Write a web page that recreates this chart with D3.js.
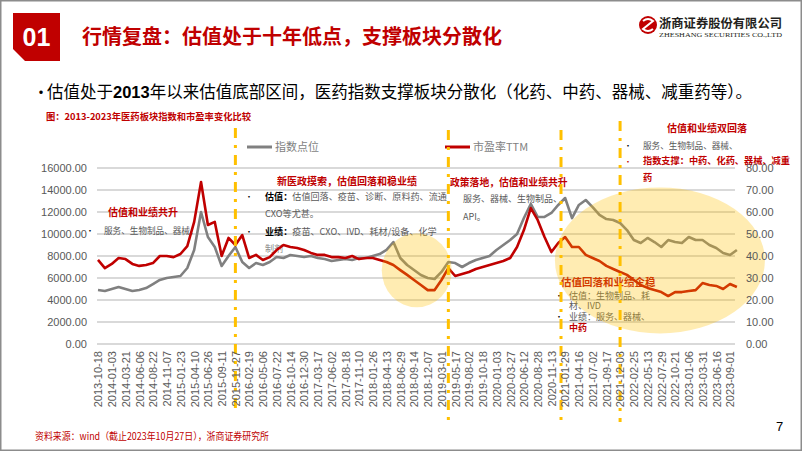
<!DOCTYPE html>
<html>
<head>
<meta charset="utf-8">
<script src="https://cdn.jsdelivr.net/npm/d3@7"></script>
<style>
body { margin: 0; background: #fff; }
svg { display: block; }
text { font-family: "Noto Sans CJK SC", "Liberation Sans", sans-serif; }
</style>
</head>
<body>
<svg width="802" height="451"></svg>
<script>
// x axis categories (every 55 trading days)
const dateLabels = ["2013-10-18","2014-01-03","2014-03-21","2014-06-06","2014-08-22","2014-11-07",
  "2015-01-23","2015-04-10","2015-06-26","2015-09-11","2015-11-27","2016-02-19","2016-05-06",
  "2016-07-22","2016-10-14","2016-12-30","2017-03-17","2017-06-02","2017-08-18","2017-11-10",
  "2018-01-26","2018-04-13","2018-06-29","2018-09-14","2018-12-07","2019-03-01","2019-05-17",
  "2019-08-02","2019-10-18","2020-01-03","2020-03-27","2020-06-12","2020-08-28","2020-11-13",
  "2021-01-29","2021-04-16","2021-07-02","2021-09-17","2021-12-03","2022-02-25","2022-05-13",
  "2022-07-29","2022-10-21","2023-01-06","2023-03-31","2023-06-16","2023-09-01"];

// one reading every half label step
const sampleStep = 0.5;

// 指数点位
const indexPts = [4910,4820,5000,5180,5000,4820,4910,5090,5450,5820,
  6000,6090,6180,6910,8550,12000,9730,8820,7090,8000,
  8820,7450,6910,7360,7180,7450,7910,7820,8090,8000,
  7910,8000,7820,7730,7550,7640,7730,7640,7820,7820,
  8000,8180,8550,9270,7820,7180,6730,6270,6000,5910,
  6550,7450,7360,7000,7360,7640,7820,8000,8550,9000,
  9450,10000,11450,12730,11550,11550,11910,12640,13270,11450,
  12640,13090,12450,11730,11360,11270,11000,10360,9450,9180,
  9640,9270,8820,9450,9270,9180,9730,9450,9450,9000,
  8730,8270,8090,8550];

// 市盈率TTM
const pePts = [38.2,34.5,36.4,39.1,38.6,36.4,35.5,35.9,36.8,40.0,
  40.0,39.5,40.9,44.5,55.5,73.6,54.1,55.5,40.0,48.2,
  45.0,49.5,39.1,40.5,38.2,39.5,42.7,45.0,44.1,43.6,
  42.7,41.4,40.5,40.5,39.5,39.5,39.1,40.0,38.6,39.1,
  39.1,38.2,37.3,35.9,33.6,31.4,29.1,26.8,24.5,24.5,
  29.1,34.5,30.9,31.8,32.7,34.1,35.0,35.9,36.8,37.7,
  39.1,44.1,51.8,61.8,56.4,48.6,41.8,45.9,48.6,44.1,
  44.1,40.5,39.1,37.7,35.5,34.1,32.7,31.4,29.1,26.8,
  25.5,24.5,23.6,21.8,23.6,23.6,24.1,24.5,27.7,26.8,
  26.4,25.0,27.3,25.9];

const leftTicks = d3.range(0, 16001, 2000);
const rightTicks = d3.range(0, 81, 10);

// phase boundaries, in label units
const phaseLines = [10, 25.5, 33.7, 38];

const red = "#C00000", gray = "#808080", txtGray = "#595959", gold = "#FFC000";

const svg = d3.select("svg");

// slide frame
svg.append("rect").attr("x", 0.75).attr("y", 0.75).attr("width", 800.5).attr("height", 449.5)
  .attr("fill", "none").attr("stroke", "#8c8c8c").attr("stroke-width", 1.5);

// header
svg.append("path").attr("d", "M13,13H60V61H25L13,49Z").attr("fill", red);
svg.append("text").attr("x", 36.5).attr("y", 46).attr("text-anchor", "middle")
  .attr("fill", "#fff").attr("font-size", 25).attr("font-weight", 700)
  .style("font-family", "Liberation Sans, Arial, sans-serif").text("01");
svg.append("text").attr("x", 82).attr("y", 44).attr("fill", red)
  .attr("font-size", 20).attr("font-weight", 700)
  .text("行情复盘：估值处于十年低点，支撑板块分散化");

// logo
svg.append("circle").attr("cx", 648).attr("cy", 25).attr("r", 9).attr("fill", red);
svg.append("path").attr("d", "M643,21 Q648,17 653,21 Q648,25 643,29 Q648,33 653,29")
  .attr("fill", "none").attr("stroke", "#fff").attr("stroke-width", 2);
svg.append("text").attr("x", 659).attr("y", 28).attr("font-size", 12.5).attr("font-weight", 700)
  .attr("fill", "#231f20").attr("textLength", 123).attr("lengthAdjust", "spacingAndGlyphs")
  .text("浙商证券股份有限公司");
svg.append("text").attr("x", 659).attr("y", 37).attr("font-size", 6.5)
  .style("font-family", "Liberation Serif, serif").attr("fill", "#231f20")
  .attr("textLength", 123).attr("lengthAdjust", "spacingAndGlyphs")
  .text("ZHESHANG SECURITIES CO.,LTD");

// bullet line
svg.append("text").attr("x", 33).attr("y", 98).attr("font-size", 16).attr("fill", "#000").text("•");
const sub = svg.append("text").attr("x", 47).attr("y", 98).attr("font-size", 16.5).attr("fill", "#000");
sub.append("tspan").text("估值处于");
sub.append("tspan").attr("font-weight", 700).style("font-family", "Liberation Sans, Arial, sans-serif").text("2013");
sub.append("tspan").text("年以来估值底部区间，医药指数支撑板块分散化（化药、中药、器械、减重药等）。");

// caption + source + page
svg.append("text").attr("x", 46).attr("y", 120).attr("font-size", 9.5).attr("font-weight", 700)
  .attr("fill", red).attr("textLength", 205).attr("lengthAdjust", "spacingAndGlyphs")
  .text("图：2013-2023年医药板块指数和市盈率变化比较");
svg.append("text").attr("x", 35).attr("y", 440).attr("font-size", 10).attr("fill", red)
  .attr("textLength", 234).attr("lengthAdjust", "spacingAndGlyphs")
  .text("资料来源：wind（截止2023年10月27日），浙商证券研究所");
svg.append("text").attr("x", 776).attr("y", 431).attr("font-size", 13).attr("fill", "#000")
  .style("font-family", "Liberation Sans, Arial, sans-serif").text("7");

// scales
const x0 = 98, x1 = 730, yTop = 168, yBot = 344;
const xPoint = d3.scalePoint().domain(dateLabels).range([x0, x1]);
const xLin = d3.scaleLinear().domain([0, dateLabels.length - 1]).range([x0, x1]);
const yL = d3.scaleLinear().domain([0, 16000]).range([yBot, yTop]);
const yR = d3.scaleLinear().domain([0, 80]).range([yBot, yTop]);

// gridlines
svg.append("g").selectAll("line").data(leftTicks).join("line")
  .attr("x1", 97).attr("x2", 735)
  .attr("y1", d => yL(d)).attr("y2", d => yL(d))
  .attr("stroke", "#d9d9d9").attr("stroke-width", 2);

// legend
svg.append("line").attr("x1", 247).attr("x2", 272).attr("y1", 147).attr("y2", 147)
  .attr("stroke", gray).attr("stroke-width", 3);
svg.append("text").attr("x", 275).attr("y", 151).attr("font-size", 11).attr("fill", "#7f7f7f").text("指数点位");
svg.append("line").attr("x1", 445).attr("x2", 470).attr("y1", 147).attr("y2", 147)
  .attr("stroke", red).attr("stroke-width", 3);
svg.append("text").attr("x", 473).attr("y", 151).attr("font-size", 11).attr("fill", "#7f7f7f").text("市盈率TTM");

// annotations
svg.append("rect").attr("x", 449).attr("y", 174).attr("width", 112).attr("height", 50).attr("fill", "#fff");

function note(x, y, parts, size) {
  const t = svg.append("text").attr("x", x).attr("y", y).attr("font-size", size || 9);
  parts.forEach(p => {
    const s = t.append("tspan").attr("fill", p.c || txtGray).text(p.t);
    if (p.b) s.attr("font-weight", 700);
  });
  return t;
}
note(108, 216, [{t: "估值和业绩共升", c: red, b: 1}], 10);
note(86, 234, [{t: "•", c: "#000"}], 8);
note(104, 234, [{t: "服务、生物制品、器械、"}], 8.6);

note(277, 185, [{t: "新医政摸索，估值回落和稳业绩", c: red, b: 1}], 10);
note(245, 200, [{t: "•", c: "#000"}], 8);
note(265, 200, [{t: "估值：", c: "#000", b: 1}, {t: "估值回落、疫苗、诊断、原料药、流通"}], 9.1);
note(265, 217, [{t: "CXO等尤甚。"}], 9.1);
note(245, 235, [{t: "•", c: "#000"}], 8);
note(265, 235, [{t: "业绩：", c: "#000", b: 1}, {t: "疫苗、CXO、IVD、耗材/设备、化学"}], 9.1);
note(265, 252, [{t: "制剂", c: "#8c8c8c"}], 9.1);

note(450, 186, [{t: "政策落地，估值和业绩共升", c: red, b: 1}], 9.8);
note(463, 202, [{t: "服务、器械、生物制品、"}], 9);
note(463, 220, [{t: "API。"}], 9);

note(667, 132, [{t: "估值和业绩双回落", c: red, b: 1}], 10);
note(624, 149, [{t: "•", c: "#000"}], 8);
note(643, 149, [{t: "服务、生物制品、器械、"}], 8.6);
note(624, 165, [{t: "•", c: red}], 8);
note(643, 164, [{t: "指数支撑：中药、化药、器械、减重", c: red, b: 1}], 9.2);
note(643, 181, [{t: "药", c: red, b: 1}], 9.2);

note(561, 286, [{t: "估值回落和业绩企稳", c: red, b: 1}], 10.5);
note(555, 299, [{t: "•", c: "#000"}], 8);
note(569, 299, [{t: "估值：生物制品、耗"}], 9);
note(569, 309, [{t: "材、IVD"}], 9);
note(555, 320, [{t: "•", c: "#000"}], 8);
note(569, 320, [{t: "业绩：服务、器械、"}], 9);
note(569, 331, [{t: "中药", c: red, b: 1}], 9);

// series
const idxLine = d3.line().x((d, i) => xLin(i * sampleStep)).y(d => yL(d));
const peLine = d3.line().x((d, i) => xLin(i * sampleStep)).y(d => yR(d));
svg.append("path").attr("d", idxLine(indexPts)).attr("fill", "none")
  .attr("stroke", gray).attr("stroke-width", 2.6).attr("stroke-linejoin", "round");
svg.append("path").attr("d", peLine(pePts)).attr("fill", "none")
  .attr("stroke", red).attr("stroke-width", 2.6).attr("stroke-linejoin", "round");

// phase dividers
const lineTop = [128, 130, 130, 121], lineBot = [412, 425, 425, 422];
svg.append("g").selectAll("line").data(phaseLines).join("line")
  .attr("x1", d => xLin(d)).attr("x2", d => xLin(d))
  .attr("y1", (d, i) => lineTop[i]).attr("y2", (d, i) => lineBot[i])
  .attr("stroke", gold).attr("stroke-width", 3).attr("stroke-dasharray", "10,7,3,7");

// highlight zones
svg.append("ellipse").attr("cx", xLin(23.2)).attr("cy", yL(6700)).attr("rx", 35).attr("ry", 37)
  .attr("fill", gold).attr("opacity", 0.3);
svg.append("ellipse").attr("cx", xLin(40.9)).attr("cy", yL(7600)).attr("rx", 105).attr("ry", 73)
  .attr("fill", gold).attr("opacity", 0.3);

// axes
const axL = svg.append("g").attr("transform", "translate(87,0)")
  .call(d3.axisLeft(yL).tickValues(leftTicks).tickFormat(d3.format(".2f")).tickSize(0).tickPadding(0));
const axR = svg.append("g").attr("transform", "translate(746,0)")
  .call(d3.axisRight(yR).tickValues(rightTicks).tickFormat(d3.format(".2f")).tickSize(0).tickPadding(0));
const axB = svg.append("g").attr("transform", `translate(0,${yBot})`)
  .call(d3.axisBottom(xPoint).tickSize(0).tickPadding(0));
[axL, axR, axB].forEach(g => {
  g.select(".domain").remove();
  g.selectAll("text").attr("fill", txtGray).attr("font-size", 11)
    .style("font-family", "Liberation Sans, Arial, sans-serif");
});
axB.selectAll("text").attr("transform", "rotate(-90)").attr("text-anchor", "end")
  .attr("x", -7).attr("y", 0).attr("dy", "0.35em");
</script>
</body>
</html>
